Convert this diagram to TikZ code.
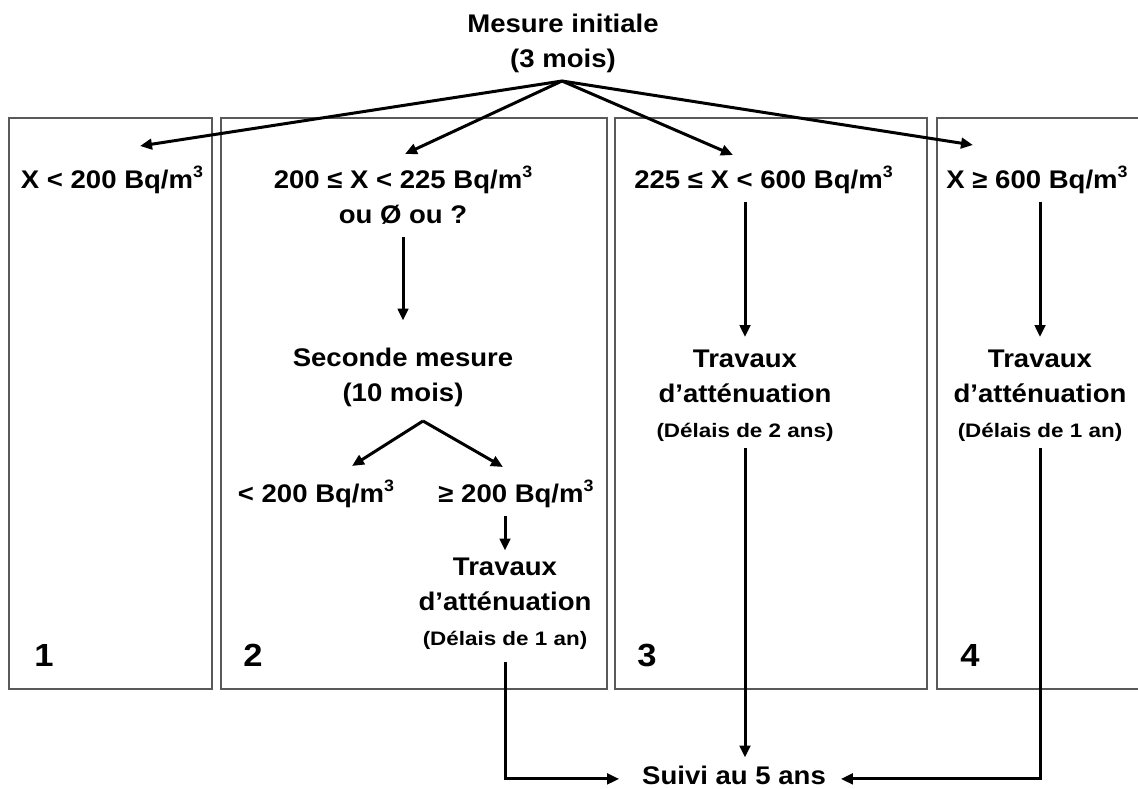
\documentclass[tikz,border=0pt]{standalone}
\usepackage{fontspec}
\newfontfamily\labfont{Liberation Sans}[FakeStretch=1.08]
\newfontfamily\smfont{Liberation Sans}[FakeStretch=1.15]
\newcommand\cubed{\raisebox{10.5pt}{\fontsize{16.5}{16.5}\selectfont 3}}
\usetikzlibrary{arrows.meta}
\begin{document}
\begin{tikzpicture}[x=1pt,y=-1pt,
  lab/.style={inner sep=0pt, outer sep=0pt, align=center,
    font=\labfont\bfseries\fontsize{25.5}{35}\selectfont},
  numlab/.style={inner sep=0pt, outer sep=0pt, anchor=base,
    font=\labfont\bfseries\fontsize{32}{38}\selectfont},
  arr/.style={line width=3pt, -{Triangle[length=12pt,width=10.5pt]}},
  frame/.style={line width=1.2pt, draw=black!65}]
\useasboundingbox (0,0) rectangle (1138,788);
\clip (0,0) rectangle (1138,788);
% frames
\draw[frame] (9,118) rectangle (212,689);
\draw[frame] (221,118) rectangle (607,689);
\draw[frame] (615,118) rectangle (927,689);
\draw[frame] (1150,118) -- (937,118) -- (937,689) -- (1150,689);
% nodes
\node[lab] (init) at (563,42.5) {\strut Mesure initiale\\\strut (3 mois)};
\coordinate (apex) at (562,81);
\node[lab] (n1) at (112,181) {\strut X < 200 Bq/m\cubed};
\node[lab] (n2) at (403,198.5) {\strut 200 ≤ X < 225 Bq/m\cubed\\\strut ou Ø ou ?};
\node[lab] (n3) at (763.5,181) {\strut 225 ≤ X < 600 Bq/m\cubed};
\node[lab] (n4) at (1037,181) {\strut X ≥ 600 Bq/m\cubed};
\coordinate (t1) at (140,146);
\coordinate (t2) at (405,154);
\coordinate (t3) at (733,155);
\coordinate (t4) at (973,145);
\node[lab] (sec) at (403,376.5) {\strut Seconde mesure\\\strut (10 mois)};
\coordinate (apex2) at (423,421);
\coordinate (tlo) at (352,466);
\coordinate (thi) at (503,467);
\node[lab] (lo) at (316,495) {\strut < 200 Bq/m\cubed};
\node[lab] (hi) at (516,495) {\strut ≥ 200 Bq/m\cubed};
\node[lab] (tr2) at (505,601.65) {\strut Travaux\\\strut d’atténuation\\{\smfont\bfseries\fontsize{19.5}{26}\selectfont\strut (Délais de 1 an)}};
\node[lab] (tr3) at (745,393.65) {\strut Travaux\\\strut d’atténuation\\{\smfont\bfseries\fontsize{19.5}{26}\selectfont\strut (Délais de 2 ans)}};
\node[lab] (tr4) at (1040,393.65) {\strut Travaux\\\strut d’atténuation\\{\smfont\bfseries\fontsize{19.5}{26}\selectfont\strut (Délais de 1 an)}};
\node[lab, anchor=base] (suivi) at (734,784) {Suivi au 5 ans};
\node[numlab] (k1) at (44,666) {1};
\node[numlab] (k2) at (253,666) {2};
\node[numlab] (k3) at (647,666) {3};
\node[numlab] (k4) at (970,666) {4};
% connectors
\draw[arr] (apex) -- (t1);
\draw[arr] (apex) -- (t2);
\draw[arr] (apex) -- (t3);
\draw[arr] (apex) -- (t4);
\draw[arr, shorten <=3.5pt, shorten >=21pt] (n2.south) -- (sec.north);
\draw[arr] (apex2) -- (tlo);
\draw[arr] (apex2) -- (thi);
\draw[arr, shorten <=3pt] (tr2.north |- hi.south) -- (tr2.north);
\draw[arr, shorten <=3.5pt, shorten >=5.5pt] (tr3.north |- n3.south) -- (tr3.north);
\draw[arr, shorten <=3.5pt, shorten >=5.5pt] (tr4.north |- n4.south) -- (tr4.north);
\draw[arr, shorten <=9pt, shorten >=23pt] (tr2.south) |- ([yshift=-4pt]suivi.west);
\draw[arr, shorten <=3pt, shorten >=8pt] (tr3.south) -- (tr3.south |- suivi.north);
\draw[arr, shorten <=3pt, shorten >=15pt] (tr4.south) |- ([yshift=-4pt]suivi.east);
\end{tikzpicture}
\end{document}
